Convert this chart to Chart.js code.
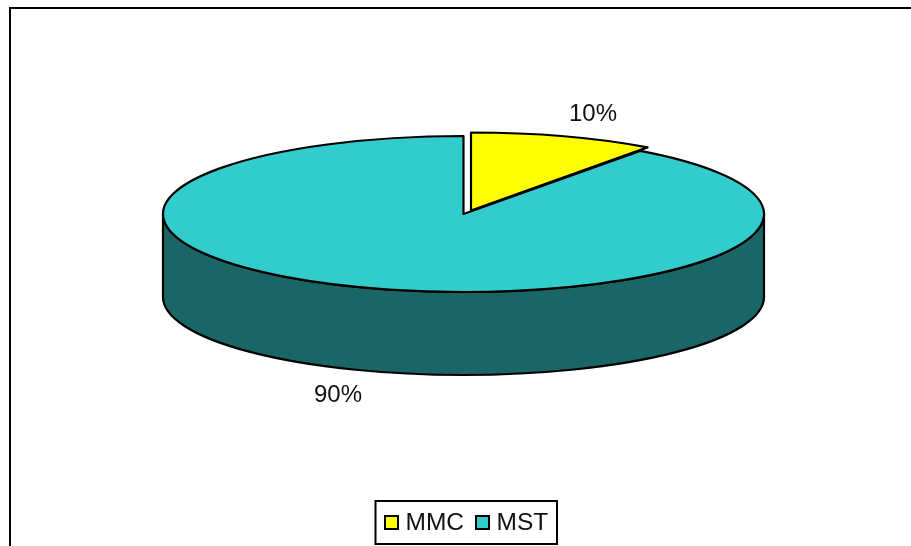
<!DOCTYPE html>
<html>
<head>
<meta charset="utf-8">
<title>MMC / MST</title>
<script src="https://cdn.jsdelivr.net/npm/chart.js@4"></script>
<style>
  html, body { margin: 0; padding: 0; background: #fff; overflow: hidden; }
  canvas { display: block; }
</style>
</head>
<body>
<canvas id="pie" width="911" height="546"></canvas>
<script>
// Share of MMC and MST, in percent
const categories = ['MMC', 'MST'];
const shares = [10, 90];

const topColors = ['#ffff00', '#33cccc'];
const wallColors = ['#808000', '#1a6666'];

const FONT = '24px "Liberation Sans", Arial, sans-serif';
const LEGEND_FONT = '24.5px "Liberation Sans", Arial, sans-serif';
const RADIUS = 300.5;
const FLATTEN = 78 / 300.5; // tilt of the disc
const DEPTH = 83;

// Flattened, extruded pie. The doughnut controller still works out the arc angles,
// this plugin only paints them as ellipses with a wall underneath.
const tiltedPie = {
  id: 'tiltedPie',
  beforeDatasetDraw() {
    return false;
  },
  afterDatasetsDraw(chart, args, opts) {
    const ctx = chart.ctx;
    const arcs = chart.getDatasetMeta(0).data;
    ctx.save();
    ctx.lineWidth = 2.2;
    ctx.lineJoin = 'round';
    ctx.strokeStyle = '#000';

    // wall first, only the part of each arc facing the viewer (angles 0..PI)
    arcs.forEach((arc, i) => {
      const { x, y, startAngle, endAngle, outerRadius } = arc.getProps(['x', 'y', 'startAngle', 'endAngle', 'outerRadius']);
      const from = Math.max(startAngle, 0);
      const to = Math.min(endAngle, Math.PI);
      if (to <= from) return;
      const ry = outerRadius * FLATTEN;
      ctx.beginPath();
      ctx.ellipse(x, y, outerRadius, ry, 0, from, to);
      ctx.ellipse(x, y + DEPTH, outerRadius, ry, 0, to, from, true);
      ctx.closePath();
      ctx.fillStyle = wallColors[i];
      ctx.fill();
      ctx.stroke();
    });

    // top faces, last slice first so the pulled-out one sits on top
    for (let i = arcs.length - 1; i >= 0; i--) {
      const { x, y, startAngle, endAngle, outerRadius } = arcs[i].getProps(['x', 'y', 'startAngle', 'endAngle', 'outerRadius']);
      const cx = x + opts.shift[i][0];
      const cy = y + opts.shift[i][1];
      ctx.beginPath();
      ctx.moveTo(cx, cy);
      ctx.ellipse(cx, cy, outerRadius, outerRadius * FLATTEN, 0, startAngle, endAngle);
      ctx.closePath();
      ctx.fillStyle = topColors[i];
      ctx.fill();
      ctx.stroke();
    }

    // percent labels
    ctx.font = FONT;
    ctx.fillStyle = '#111';
    ctx.textAlign = 'center';
    ctx.textBaseline = 'middle';
    shares.forEach((v, i) => {
      ctx.fillText(v + '%', opts.labels[i][0], opts.labels[i][1]);
    });
    ctx.restore();
  }
};

// Outer frame and the boxed legend
const frameAndLegend = {
  id: 'frameAndLegend',
  afterDraw(chart, args, opts) {
    const ctx = chart.ctx;
    ctx.save();
    ctx.strokeStyle = '#000';
    ctx.lineWidth = 2;
    ctx.beginPath();
    ctx.moveTo(10, chart.height);
    ctx.lineTo(10, 8);
    ctx.lineTo(chart.width, 8);
    ctx.stroke();

    const b = opts.box;
    ctx.fillStyle = '#fff';
    ctx.fillRect(b.x, b.y, b.w, b.h);
    ctx.strokeRect(b.x, b.y, b.w, b.h);

    ctx.font = LEGEND_FONT;
    ctx.textAlign = 'left';
    ctx.textBaseline = 'middle';
    categories.forEach((name, i) => {
      ctx.fillStyle = topColors[i];
      ctx.fillRect(opts.swatchX[i], opts.swatchY, 13, 13);
      ctx.strokeRect(opts.swatchX[i], opts.swatchY, 13, 13);
      ctx.fillStyle = '#111';
      ctx.fillText(name, opts.textX[i], opts.swatchY + 7);
    });
    ctx.restore();
  }
};

new Chart(document.getElementById('pie').getContext('2d'), {
  type: 'pie',
  data: {
    labels: categories,
    datasets: [{
      data: shares,
      backgroundColor: topColors
    }]
  },
  options: {
    responsive: false,
    animation: false,
    radius: RADIUS,
    // pushes the pie centre to (463.5, 214)
    layout: { padding: { left: 16, bottom: 118 } },
    plugins: {
      legend: { display: false },
      tooltip: { enabled: false },
      tiltedPie: {
        shift: [[7.5, -3.5], [0, 0]],
        labels: [[593, 114], [338, 395]]
      },
      frameAndLegend: {
        box: { x: 375.5, y: 501, w: 181.5, h: 43 },
        swatchX: [385, 476],
        swatchY: 516,
        textX: [405.5, 496.5]
      }
    }
  },
  plugins: [tiltedPie, frameAndLegend]
});
</script>
</body>
</html>
